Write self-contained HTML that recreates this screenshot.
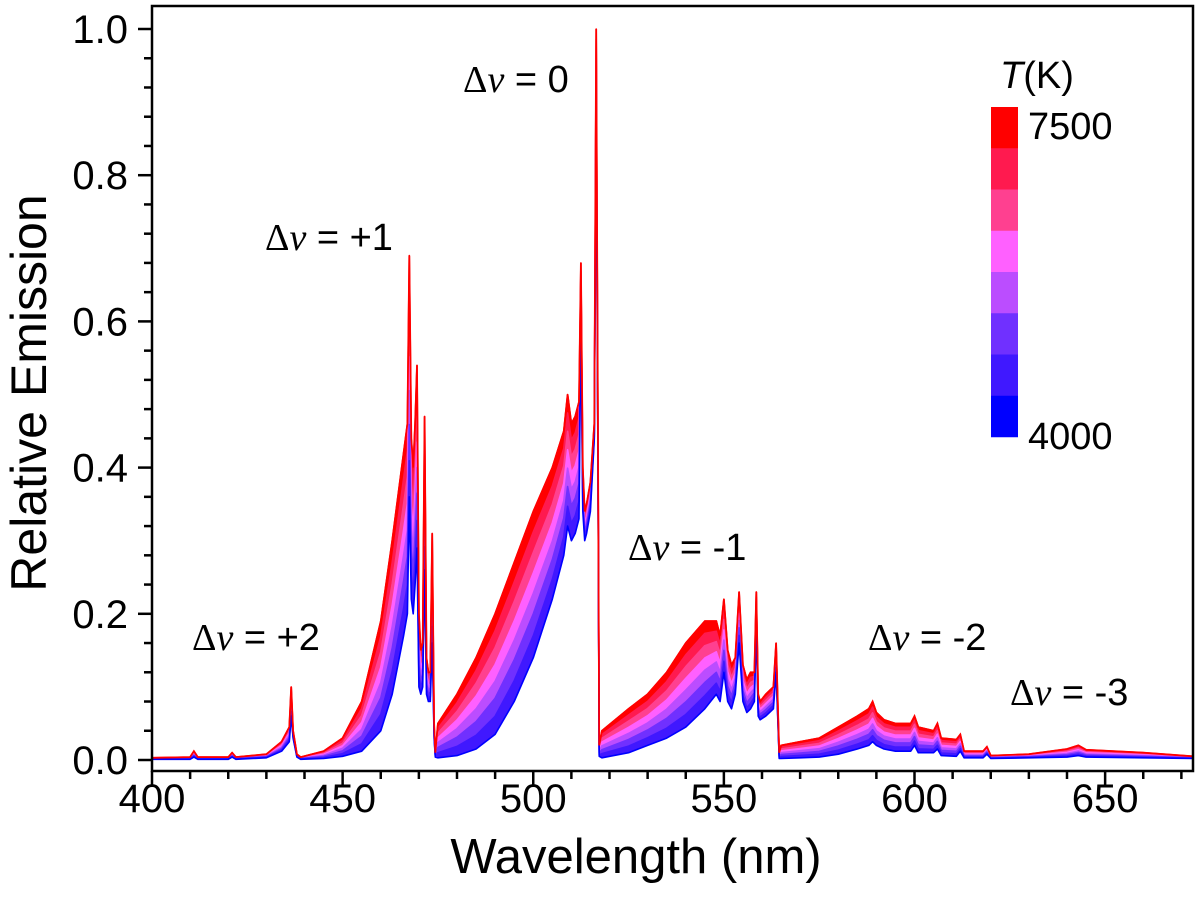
<!DOCTYPE html>
<html><head><meta charset="utf-8"><style>
html,body{margin:0;padding:0;background:#fff;width:1200px;height:909px;overflow:hidden}
svg{display:block;font-family:"Liberation Sans",sans-serif}
</style></head><body>
<svg id="chart" width="1200" height="909" viewBox="0 0 1200 909" xmlns="http://www.w3.org/2000/svg">
<g id="series"></g>
<g id="axes"></g>
<g id="labels"></g>
<g id="legend"></g>
</svg>
<script>
// ---- data ----
const wavelengths = [400,410,411,412,420,421,422,430,434,436,436.5,437,438,439,445,450,455,460,463,466,467,467.5,468,468.5,469,469.5,470,470.5,471,471.5,472,472.5,473,473.5,474,474.3,
 475,480,485,490,495,500,505,508,509,510,511,512,512.5,513,513.5,514,515,516,516.5,517,517.3,
 518,525,530,535,540,545,548,549,550,551,552,553,554,555,556,557,558,558.5,559,559.5,561,563,563.7,564.5,
 565,570,575,580,585,588,589,590,592,595,599,600,601,605,606,607,611,612,613,618,619,620,630,640,643,645,660,673];
const emission7500 = [0.003,0.004,0.012,0.004,0.004,0.01,0.004,0.008,0.025,0.045,0.10,0.04,0.008,0.004,0.012,0.03,0.08,0.19,0.30,0.42,0.46,0.69,0.44,0.40,0.46,0.54,0.20,0.15,0.16,0.47,0.14,0.12,0.12,0.31,0.05,0.01,
 0.05,0.09,0.14,0.20,0.27,0.34,0.40,0.45,0.50,0.46,0.47,0.49,0.68,0.40,0.34,0.35,0.38,0.46,1.0,0.40,0.02,
 0.04,0.07,0.09,0.12,0.16,0.19,0.19,0.17,0.22,0.15,0.13,0.14,0.23,0.13,0.11,0.12,0.12,0.23,0.09,0.08,0.09,0.10,0.16,0.01,
 0.02,0.025,0.03,0.045,0.06,0.07,0.08,0.065,0.055,0.05,0.05,0.06,0.045,0.04,0.05,0.03,0.028,0.035,0.012,0.012,0.018,0.006,0.008,0.015,0.02,0.014,0.01,0.005];
const emission4000 = [0.001,0.001,0.004,0.001,0.001,0.004,0.001,0.003,0.012,0.025,0.06,0.03,0.004,0.001,0.002,0.005,0.012,0.04,0.09,0.17,0.20,0.36,0.22,0.20,0.24,0.29,0.10,0.09,0.10,0.26,0.09,0.08,0.08,0.16,0.03,0.004,
 0.003,0.006,0.015,0.035,0.08,0.14,0.22,0.28,0.32,0.30,0.31,0.33,0.60,0.34,0.30,0.31,0.34,0.44,0.90,0.36,0.005,
 0.003,0.01,0.02,0.03,0.045,0.07,0.09,0.08,0.12,0.08,0.07,0.09,0.16,0.08,0.065,0.07,0.08,0.18,0.06,0.055,0.06,0.07,0.12,0.002,
 0.002,0.003,0.004,0.008,0.015,0.02,0.025,0.02,0.015,0.012,0.012,0.02,0.01,0.01,0.015,0.006,0.005,0.012,0.003,0.003,0.008,0.002,0.003,0.004,0.006,0.004,0.003,0.002];
const temperatures = [7500,7000,6500,6000,5500,5000,4500,4000];
const tempWeights = [1.0,0.86,0.72,0.58,0.44,0.30,0.15,0.0];
const tempColors = ["#ff0000","#ff1a4f","#ff4090","#ff60ff","#bb4dff","#7030ff","#4018ff","#0000ff"];
const xTicks = [400,450,500,550,600,650];
const yTicks = [0.0,0.2,0.4,0.6,0.8,1.0];
const yTickLabels = ["0.0","0.2","0.4","0.6","0.8","1.0"];

// ---- axes functions ----
const X0=152, X1=1193, YB=771, YT=6;
function xs(w){return 152+(w-400)*3.8125;}
function ys(v){return 760-v*731;}
const NS="http://www.w3.org/2000/svg";
function mk(tag,attrs,parent){const e=document.createElementNS(NS,tag);for(const k in attrs)e.setAttribute(k,attrs[k]);parent.appendChild(e);return e;}

const gS=document.getElementById('series');
function seriesPts(wt){return wavelengths.map((w,i)=>{const v=emission4000[i]+wt*(emission7500[i]-emission4000[i]);return xs(w).toFixed(1)+','+ys(v).toFixed(1);});}
temperatures.forEach((t,k)=>{
  const pts=seriesPts(tempWeights[k]);
  const fillPts=pts.join(' ')+' '+xs(673).toFixed(1)+','+ys(0)+' '+xs(400)+','+ys(0);
  const poly=mk('polygon',{points:fillPts,fill:k===temperatures.length-1?'#ffffff':tempColors[k],stroke:'none'},gS);
  
  
});
temperatures.forEach((t,k)=>{
  const pl=mk('polyline',{points:seriesPts(tempWeights[k]).join(' '),fill:'none',stroke:tempColors[k],'stroke-width':1.6,'stroke-linejoin':'round'},gS);
  
  
});
const topLine=mk('polyline',{points:seriesPts(1).join(' '),fill:'none',stroke:'#ff0000','stroke-width':1.8},gS);



// ---- axes ----
const gA=document.getElementById('axes');
const frame=mk('path',{d:`M${X0},${YT} H${X1} V${YB} H${X0} Z`,fill:'none',stroke:'#000','stroke-width':2.5},gA);


for(let w=400;w<=670;w+=10){
  const major=xTicks.includes(w);
  const tk=mk('line',{x1:xs(w),x2:xs(w),y1:YB,y2:YB+(major?14:8),stroke:'#000','stroke-width':2.5},gA);
  
  
}
xTicks.forEach(w=>{
  const t=mk('text',{x:xs(w),y:812,'text-anchor':'middle','font-size':40,fill:'#000'},gA);
  t.textContent=w;
  
  
});
for(let i=0;i<=25;i++){
  const v=i*0.04;const major=i%5===0;
  const tk=mk('line',{x1:X0,x2:X0-(major?14:8),y1:ys(v),y2:ys(v),stroke:'#000','stroke-width':2.5},gA);
  
  
}
yTicks.forEach((v,i)=>{
  const t=mk('text',{x:128,y:ys(v)+14,'text-anchor':'end','font-size':40,fill:'#000'},gA);
  t.textContent=yTickLabels[i];
  
  
});
const xt=mk('text',{x:636,y:873,'text-anchor':'middle','font-size':49,fill:'#000'},gA);
xt.textContent='Wavelength (nm)';


const yt=mk('text',{x:0,y:0,'text-anchor':'middle','font-size':50,fill:'#000',transform:'translate(46,393) rotate(-90)'},gA);
yt.textContent='Relative Emission';



// ---- band labels ----
const bandLabels=[["+2",192,650],["+1",265,250],["0",463,92],["-1",628,560],["-2",868,650],["-3",1010,705]];
const gL=document.getElementById('labels');
bandLabels.forEach(b=>{
  const t=mk('text',{x:b[1],y:b[2],'font-size':38,fill:'#000'},gL);
  
  
  const d=mk('tspan',{'font-family':'Liberation Serif, serif'},t);d.textContent='Δ';
  const n=mk('tspan',{'font-family':'Liberation Serif, serif','font-style':'italic'},t);n.textContent='ν';
  const r=mk('tspan',{},t);r.textContent=' = '+b[0];
});

// ---- colorbar ----
const gC=document.getElementById('legend');
tempColors.forEach((c,i)=>{
  const r=mk('rect',{x:991,y:107+i*41.25,width:27,height:41.5,fill:c},gC);
  
  
});
const tkTitle=mk('text',{x:1000,y:88,'font-size':38,fill:'#000'},gC);


const ti=mk('tspan',{'font-style':'italic'},tkTitle);ti.textContent='T';
const tr=mk('tspan',{},tkTitle);tr.textContent='(K)';
const l1=mk('text',{x:1028,y:139,'font-size':38,fill:'#000'},gC);l1.textContent='7500';


const l2=mk('text',{x:1028,y:449,'font-size':38,fill:'#000'},gC);l2.textContent='4000';


</script>
</body></html>
